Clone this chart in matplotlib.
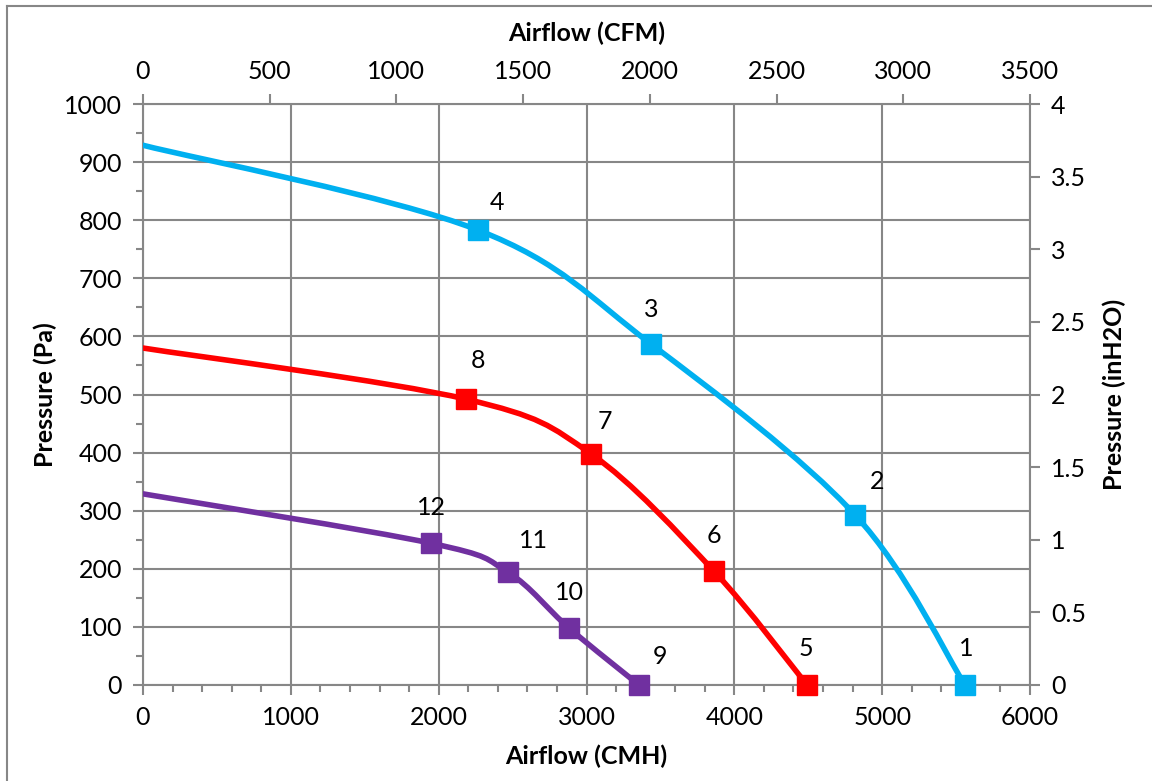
import matplotlib
matplotlib.use("Agg")
import matplotlib.pyplot as plt
import numpy as np
from matplotlib.path import Path
from matplotlib.patches import PathPatch
from matplotlib.lines import Line2D
from matplotlib.ticker import MultipleLocator

plt.rcParams['font.family'] = ['Lato', 'DejaVu Sans']

# fan curves: airflow (CMH) vs pressure (Pa); first point is the curve start at 0 flow
blue_x = [0, 2266, 3436, 4816, 5560]
blue_y = [929, 783, 587, 293, 0]
blue_labels = ["4", "3", "2", "1"]

red_x = [0, 2185, 3030, 3862, 4492]
red_y = [580, 492, 398, 196, 0]
red_labels = ["8", "7", "6", "5"]

purple_x = [0, 1948, 2469, 2882, 3355]
purple_y = [329, 244, 194, 98, 0]
purple_labels = ["12", "11", "10", "9"]

# label offsets (pixels) from each marker
blue_off = [(19, -28), (0, -34), (22, -33), (1, -37)]
red_off = [(12, -39), (14, -32), (0, -36), (-1, -37)]
purple_off = [(0, -36), (25, -32), (0, -36), (21, -29)]

BLUE = "#00B0F0"
RED = "#FF0000"
PURPLE = "#7030A0"
GRID = "#878787"
FS = 18


def smooth_path(xs, ys):
    pts = np.column_stack([xs, ys]).astype(float)
    n = len(pts)
    verts = [pts[0]]
    codes = [Path.MOVETO]
    for i in range(n - 1):
        p0 = pts[i - 1] if i > 0 else pts[i]
        p1 = pts[i]
        p2 = pts[i + 1]
        p3 = pts[i + 2] if i + 2 < n else pts[i + 1]
        c1 = p1 + (p2 - p0) / 6.0
        c2 = p2 - (p3 - p1) / 6.0
        verts += [c1, c2, p2]
        codes += [Path.CURVE4] * 3
    return Path(verts, codes)


fig = plt.figure(figsize=(11.52, 7.81), dpi=100)
ax = fig.add_axes([143 / 1152, 96 / 781, 887 / 1152, 581 / 781])

for xs, ys, labs, offs, col in [
    (blue_x, blue_y, blue_labels, blue_off, BLUE),
    (red_x, red_y, red_labels, red_off, RED),
    (purple_x, purple_y, purple_labels, purple_off, PURPLE),
]:
    ax.add_patch(PathPatch(smooth_path(xs, ys), fill=False, edgecolor=col,
                           lw=4, capstyle='round', joinstyle='round', zorder=3))
    ax.plot(xs[1:], ys[1:], ls='none', marker='s', ms=14.5, color=col,
            zorder=4, clip_on=False)
    for x, y, lab, (dx, dy) in zip(xs[1:], ys[1:], labs, offs):
        ax.annotate(lab, (x, y), xytext=(dx, -dy), textcoords='offset pixels',
                    ha='center', va='center', fontsize=FS, color='black', zorder=5)

ax.set_xlim(0, 6000)
ax.set_ylim(0, 1000)
ax.xaxis.set_major_locator(MultipleLocator(1000))
ax.xaxis.set_minor_locator(MultipleLocator(200))
ax.yaxis.set_major_locator(MultipleLocator(100))
ax.yaxis.set_minor_locator(MultipleLocator(50))
ax.grid(True, which='major', color=GRID, lw=1.5)
ax.set_axisbelow(True)

ax.set_xlabel("Airflow (CMH)", fontsize=FS, fontweight='bold', labelpad=11)
ax.set_ylabel("Pressure (Pa)", fontsize=FS, fontweight='bold', labelpad=5)

ax_top = ax.twiny()
ax_top.set_xlim(0, 3500)
ax_top.xaxis.set_major_locator(MultipleLocator(500))
ax_top.set_xlabel("Airflow (CFM)", fontsize=FS, fontweight='bold', labelpad=14)

ax_right = ax.twinx()
ax_right.set_ylim(0, 4)
ax_right.yaxis.set_major_locator(MultipleLocator(0.5))
ax_right.yaxis.set_major_formatter(plt.FuncFormatter(lambda v, p: f"{v:g}"))
ax_right.set_ylabel("Pressure (inH2O)", fontsize=FS, fontweight='bold', labelpad=12)

for a in (ax, ax_top, ax_right):
    for s in a.spines.values():
        s.set_visible(False)
    a.tick_params(which='both', colors=GRID, labelcolor='black', labelsize=FS,
                  direction='out', width=1.5)
    a.tick_params(which='major', length=7, pad=8)
    a.tick_params(which='minor', length=5)

ax.spines['left'].set_visible(True)
ax.spines['bottom'].set_visible(True)
ax_top.spines['top'].set_visible(True)
ax_right.spines['right'].set_visible(True)
for a, k in [(ax, 'left'), (ax, 'bottom'), (ax_top, 'top'), (ax_right, 'right')]:
    a.spines[k].set_color(GRID)
    a.spines[k].set_linewidth(1.5)

# outer chart border (only top and left visible)
fig.add_artist(Line2D([7 / 1152, 1], [1 - 6 / 781, 1 - 6 / 781], color=GRID, lw=1.5))
fig.add_artist(Line2D([7 / 1152, 7 / 1152], [0, 1 - 6 / 781], color=GRID, lw=1.5))

fig.savefig("out.png", dpi=100)
